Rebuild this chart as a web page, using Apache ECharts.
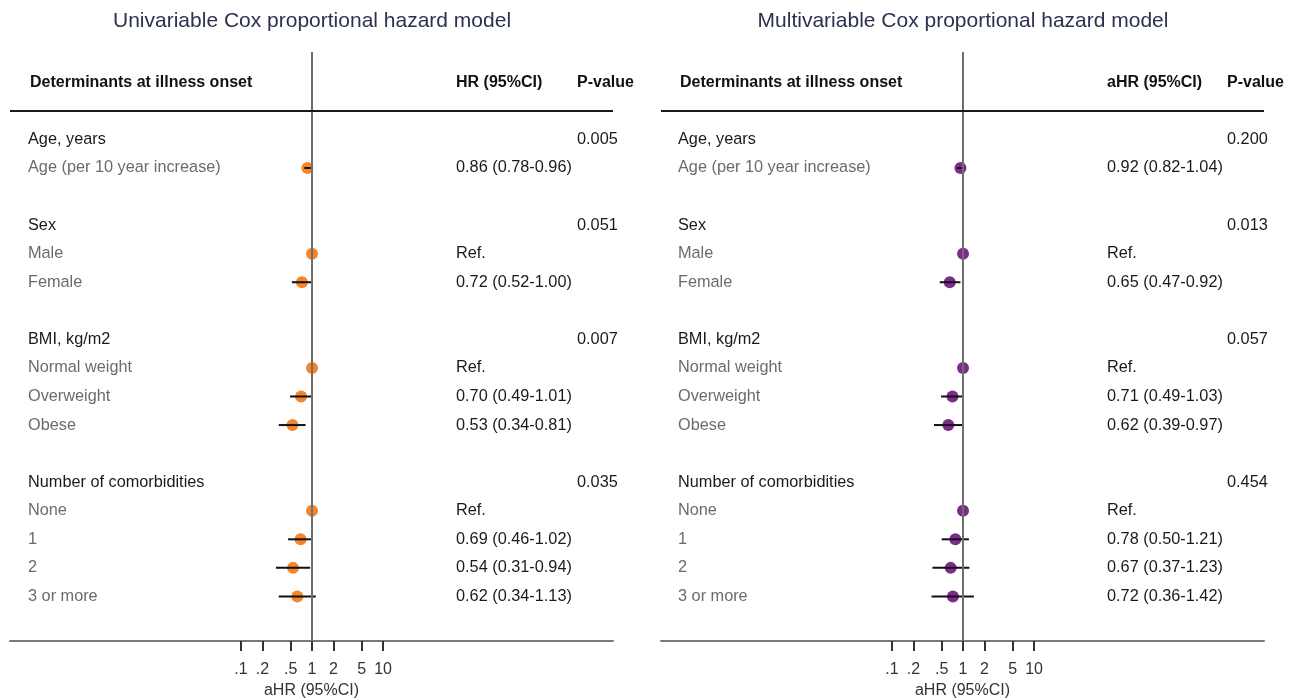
<!DOCTYPE html>
<html><head><meta charset="utf-8">
<script src="https://cdn.jsdelivr.net/npm/echarts@6/dist/echarts.min.js"></script>
<style>html,body{margin:0;padding:0;background:#fff}#c{width:1295px;height:698px}</style>
</head><body><div id="c"></div>
<script>
// ---- data ----
const rowLabels = ['Age, years','Age (per 10 year increase)','','Sex','Male','Female','','BMI, kg/m2','Normal weight','Overweight','Obese','','Number of comorbidities','None','1','2','3 or more'];
const rowIsHeader = [1,0,0,1,0,0,0,1,0,0,0,0,1,0,0,0,0];

const uniHR = [null,0.86,null,null,1,0.72,null,null,1,0.70,0.53,null,null,1,0.69,0.54,0.62];
const uniLo = [null,0.78,null,null,null,0.52,null,null,null,0.49,0.34,null,null,null,0.46,0.31,0.34];
const uniHi = [null,0.96,null,null,null,1.00,null,null,null,1.01,0.81,null,null,null,1.02,0.94,1.13];
const uniP  = ['0.005','','','0.051','','','','0.007','','','','','0.035','','','',''];

const mulHR = [null,0.92,null,null,1,0.65,null,null,1,0.71,0.62,null,null,1,0.78,0.67,0.72];
const mulLo = [null,0.82,null,null,null,0.47,null,null,null,0.49,0.39,null,null,null,0.50,0.37,0.36];
const mulHi = [null,1.04,null,null,null,0.92,null,null,null,1.03,0.97,null,null,null,1.21,1.23,1.42];
const mulP  = ['0.200','','','0.013','','','','0.057','','','','','0.454','','','',''];

const tickValues = [0.1,0.2,0.5,1,2,5,10];
const tickLabels = ['.1','.2','.5','1','2','5','10'];

const titles = ['Univariable Cox proportional hazard model','Multivariable Cox proportional hazard model'];
const hrHeaders = ['HR (95%CI)','aHR (95%CI)'];

// ---- layout / style ----
const FF = '"Liberation Sans", Arial, sans-serif';
const panels = [
  {left:10, width:603, labelX:28, headX:30, hrX:456, pX:577, color:'#F5852A', hr:uniHR, lo:uniLo, hi:uniHi, p:uniP},
  {left:661, width:603, labelX:678, headX:680, hrX:1107, pX:1227, color:'#7D2C8C', hr:mulHR, lo:mulLo, hi:mulHi, p:mulP}
];
const tickLogs = tickValues.map(v => Math.log10(v));
const fmt = v => v.toFixed(2);
const FS = 16.3;

const chart = echarts.init(document.getElementById('c'), null, {renderer:'canvas'});
const grid = [], xAxis = [], yAxis = [], series = [], title = [];

panels.forEach((pn, i) => {
  grid.push({left:pn.left, width:pn.width, top:52, bottom:57, containLabel:false, outerBoundsMode:'none'});
  xAxis.push({
    type:'value', gridIndex:i, min:-4.254, max:4.239,
    splitLine:{show:false},
    axisLine:{show:true, onZero:false, lineStyle:{color:'#7a7a7a', width:2}},
    axisTick:{show:true, customValues:tickLogs, length:10, lineStyle:{color:'#333', width:2}},
    axisLabel:{customValues:tickLogs, margin:21, fontSize:16, color:'#333', fontFamily:FF,
      formatter: v => { let k=0, d=1e9; tickLogs.forEach((t,j)=>{ if(Math.abs(t-v)<d){d=Math.abs(t-v);k=j;} }); return tickLabels[k]; }},
    name:'aHR (95%CI)', nameLocation:'middle', nameGap:39,
    nameTextStyle:{fontSize:16, color:'#333', fontFamily:FF}
  });
  yAxis.push({type:'value', gridIndex:i, inverse:true, min:-3.06, max:17.56, show:false});
  title.push({text:titles[i], left:pn.left + pn.width*(4.254/(4.254+4.239)), top:11, padding:0, textAlign:'center',
    textStyle:{fontSize:21, fontWeight:'normal', color:'#2c3152', fontFamily:FF}});

  const pts = [], cis = [], txt = [[0,-2]];
  pn.hr.forEach((h, r) => {
    if (h != null) pts.push([Math.log10(h), r]);
    if (pn.lo[r] != null) cis.push([Math.log10(pn.lo[r]), r, Math.log10(pn.hi[r])]);
  });
  rowLabels.forEach((l, r) => txt.push([0, r]));

  series.push({
    type:'scatter', xAxisIndex:i, yAxisIndex:i, data:pts, symbol:'circle', symbolSize:12,
    itemStyle:{color:pn.color, opacity:1}, z:2, silent:true,
    markLine:{symbol:'none', silent:true, animation:false, label:{show:false},
      lineStyle:{color:'#6e6e6e', width:2, type:'solid'},
      data:[{xAxis:0}, {yAxis:-1, lineStyle:{color:'#1a1a1a', width:2, type:'solid'}}]}
  });
  series.push({
    type:'custom', xAxisIndex:i, yAxisIndex:i, data:cis, z:3, silent:true, clip:false,
    renderItem:(params, api) => {
      const a = api.coord([api.value(0), api.value(1)]);
      const b = api.coord([api.value(2), api.value(1)]);
      return {type:'line', shape:{x1:a[0], y1:a[1], x2:b[0], y2:b[1]}, style:{stroke:'#111', lineWidth:2}};
    }
  });
  series.push({
    type:'custom', xAxisIndex:i, yAxisIndex:i, data:txt, z:4, silent:true, clip:false,
    renderItem:(params, api) => {
      const r = api.value(1);
      const y = api.coord([0, r])[1];
      const children = [];
      const mk = (x, s, font, fill) => children.push({type:'text', style:{x:x, y:y, text:s, font:font, fill:fill, align:'left', verticalAlign:'middle'}});
      if (r === -2) {
        mk(pn.headX, 'Determinants at illness onset', 'bold 16px '+FF, '#111');
        mk(pn.hrX, hrHeaders[i], 'bold 16px '+FF, '#111');
        mk(pn.pX, 'P-value', 'bold 16px '+FF, '#111');
      } else {
        const lab = rowLabels[r];
        if (lab) mk(pn.labelX, lab, FS+'px '+FF, rowIsHeader[r] ? '#1a1a1a' : '#6b6b6b');
        const h = pn.hr[r];
        if (h != null) {
          const s = pn.lo[r] == null ? 'Ref.' : fmt(h) + ' (' + fmt(pn.lo[r]) + '-' + fmt(pn.hi[r]) + ')';
          mk(pn.hrX, s, FS+'px '+FF, '#1a1a1a');
        }
        if (pn.p[r]) mk(pn.pX, pn.p[r], FS+'px '+FF, '#1a1a1a');
      }
      return {type:'group', children:children};
    }
  });
});

chart.setOption({animation:false, backgroundColor:'#fff', title, grid, xAxis, yAxis, series});
</script>
</body></html>
